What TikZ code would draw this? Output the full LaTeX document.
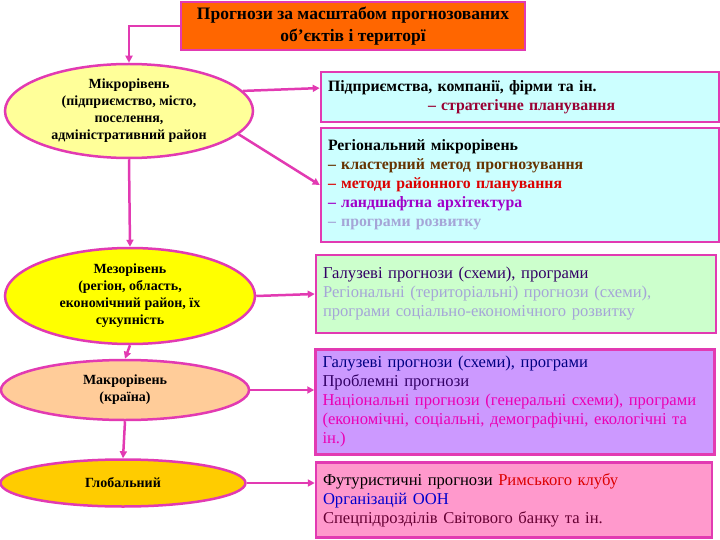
\documentclass[tikz,border=0pt]{standalone}
\usepackage{fontspec}
\setmainfont{Liberation Serif}
\usetikzlibrary{shapes.geometric,arrows.meta,calc}

\definecolor{mag}{RGB}{226,58,178}
\definecolor{titleorange}{RGB}{255,102,0}
\definecolor{microfill}{RGB}{255,255,153}
\definecolor{mesofill}{RGB}{255,255,0}
\definecolor{macrofill}{RGB}{255,204,153}
\definecolor{globalfill}{RGB}{255,204,0}
\definecolor{cyanfill}{RGB}{204,255,255}
\definecolor{greenfill}{RGB}{204,255,204}
\definecolor{violetfill}{RGB}{204,153,255}
\definecolor{pinkfill}{RGB}{255,153,204}
\definecolor{darkred}{RGB}{153,0,51}
\definecolor{brownish}{RGB}{102,51,0}
\definecolor{redish}{RGB}{220,0,0}
\definecolor{purplish}{RGB}{160,0,200}
\definecolor{lavender}{RGB}{165,165,215}
\definecolor{navy}{RGB}{0,0,130}
\definecolor{plum}{RGB}{51,0,102}
\definecolor{pinkmag}{RGB}{235,0,180}
\definecolor{deepblue}{RGB}{0,0,204}
\definecolor{maroon}{RGB}{102,0,51}

\begin{document}
\begin{tikzpicture}[x=1pt,y=-1pt,
  lvl/.style={ellipse,draw=mag,line width=2.5pt,inner sep=0pt,align=center,
    font=\bfseries\fontsize{14}{17}\selectfont},
  info/.style={rectangle,draw=mag,line width=2.5pt,inner xsep=7pt,inner ysep=0pt,
    align=left,font=\fontsize{16.6}{19}\selectfont},
  boldinfo/.style={info,font=\bfseries\fontsize{15.8}{19}\selectfont},
  arr/.style={draw=mag,line width=2.5pt,-{Triangle[length=7pt,width=7pt]}}]
\useasboundingbox (0,0) rectangle (720,540);

% title
\node[rectangle,draw=mag,line width=2.5pt,fill=titleorange,minimum width=344pt,
  minimum height=48pt,align=center,font=\bfseries\fontsize{17.5}{22}\selectfont]
  (title) at (353,26) {Прогнози за масштабом прогнозованих\\об’єктів і територї};

% levels
\node[lvl,fill=microfill,minimum width=248pt,minimum height=94pt] (micro) at (129,111)
  {Мікрорівень\\(підприємство, місто,\\поселення,\\адміністративний район};
\node[lvl,fill=mesofill,minimum width=250pt,minimum height=96pt] (meso) at (130,296)
  {Мезорівень\\(регіон, область,\\економічний район, їх\\сукупність};
\node[lvl,fill=macrofill,minimum width=248pt,minimum height=60pt] (macro) at (125,390)
  {Макрорівень\\(країна)};
\node[lvl,fill=globalfill,minimum width=245pt,minimum height=47pt] (global) at (123,483)
  {Глобальний};

% boxes
\node[boldinfo,fill=cyanfill,text width=384pt,minimum height=50pt] (firm) at (520,97)
  {Підприємства, компанії, фірми та ін.\\
   \hspace*{100pt}\textcolor{darkred}{– стратегічне планування}};
\node[boldinfo,fill=cyanfill,text width=384pt,minimum height=114pt] (region) at (520,185)
  {Регіональний мікрорівень\\
   \textcolor{brownish}{– кластерний метод прогнозування}\\
   \textcolor{redish}{– методи районного планування}\\
   \textcolor{purplish}{– ландшафтна архітектура}\\
   \textcolor{lavender}{– програми розвитку}};
\node[info,fill=greenfill,text width=386pt,minimum height=78pt] (branch) at (516,294)
  {\textcolor{plum}{Галузеві прогнози (схеми), програми}\\
   \textcolor{lavender}{Регіональні (територіальні) прогнози (схеми),}\\
   \textcolor{lavender}{програми соціально-економічного розвитку}};
\node[info,fill=violetfill,text width=385pt,minimum height=105pt] (nation) at (515,402)
  {\textcolor{navy}{Галузеві прогнози (схеми), програми}\\
   \textcolor{plum}{Проблемні прогнози}\\
   \textcolor{pinkmag}{Національні прогнози (генеральні схеми), програми}\\
   \textcolor{pinkmag}{(економічні, соціальні, демографічні, екологічні та}\\
   \textcolor{pinkmag}{ін.)}};
\node[info,fill=pinkfill,text width=382pt,minimum height=75pt] (world) at (514,500)
  {Футуристичні прогнози \textcolor{redish}{Римського клубу}\\
   \textcolor{deepblue}{Організацій ООН}\\
   \textcolor{maroon}{Спецпідрозділів Світового банку та ін.}};

% connectors
\draw[arr] (title.west) -| (micro.north);
\draw[arr] (micro.south) -- (meso.north);
\draw[arr] (meso.south) -- (macro.north);
\draw[arr] (macro.south) -- (global.north);
\draw[arr] (micro.10) -- ($(firm.north west)!.33!(firm.south west)$);
\draw[arr] (micro.-12) -- (region.west);
\draw[arr] (meso.east) -- (branch.west);
\draw[arr] (macro.east) -- (macro.east -| nation.west);
\draw[arr] (global.east) -- (global.east -| world.west);
\end{tikzpicture}
\end{document}
